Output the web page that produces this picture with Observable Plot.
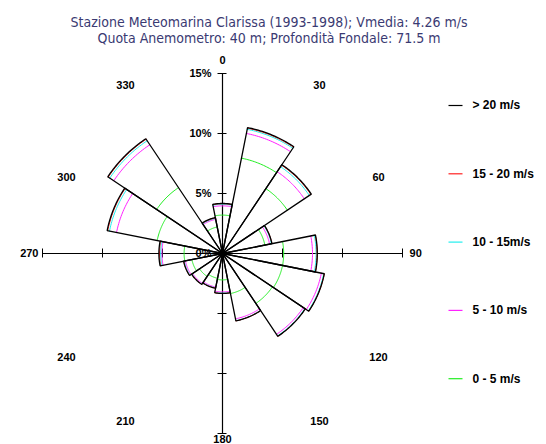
<!DOCTYPE html>
<html>
<head>
<meta charset="utf-8">
<script src="https://cdn.jsdelivr.net/npm/d3@7"></script>
<script src="https://cdn.jsdelivr.net/npm/@observablehq/plot@0.6"></script>
<style>
  html, body { margin: 0; padding: 0; background: #fff; }
  #page { width: 546px; height: 444px; overflow: hidden; position: relative; }
  #title {
    height: 44px; box-sizing: border-box; padding-top: 14px;
    font-family: "DejaVu Sans Condensed", "DejaVu Sans", sans-serif;
    font-stretch: condensed;
    font-size: 14px; line-height: 16px; color: #3a3a72;
    text-align: center; padding-right: 8px;
  }
  #chart svg { display: block; }
</style>
</head>
<body>
<div id="page">
  <div id="title">
    <div>Stazione Meteomarina Clarissa (1993-1998); Vmedia: 4.26 m/s</div>
    <div>Quota Anemometro: 40 m; Profondità Fondale: 71.5 m</div>
  </div>
  <div id="chart"></div>
</div>
<script>
// 16 direction sectors, 22.5° wide, bearing measured clockwise from north
const sectors  = ["N","NNE","NE","ENE","E","ESE","SE","SSE","S","SSW","SW","WSW","W","WNW","NW","NNW"];
const bearings = [0, 22.5, 45, 67.5, 90, 112.5, 135, 157.5, 180, 202.5, 225, 247.5, 270, 292.5, 315, 337.5];

// frequency (%) of each speed class per sector
const speed0to5   = [3.20, 8.10, 6.50, 3.60, 5.10, 5.10, 5.00, 3.40, 2.20, 2.10, 2.30, 2.60, 3.20, 5.55, 6.60, 2.25];
const speed5to10  = [0.77, 2.10, 1.70, 0.40, 2.40, 3.30, 3.10, 2.15, 1.00, 0.75, 0.70, 0.55, 1.85, 3.45, 4.30, 0.65];
const speed10to15 = [0.13, 0.35, 0.50, 0.15, 0.30, 0.20, 0.15, 0.15, 0.10, 0.07, 0.08, 0.10, 0.10, 0.60, 0.40, 0.08];
const speed15to20 = [0.05, 0.10, 0.15, 0.05, 0.08, 0.05, 0.05, 0.02, 0.03, 0.03, 0.02, 0.05, 0.10, 0.15, 0.15, 0.04];
const speedOver20 = [0.02, 0.05, 0.05, 0.00, 0.02, 0.00, 0.00, 0.00, 0.00, 0.00, 0.00, 0.00, 0.05, 0.05, 0.05, 0.03];

const classLabels = ["0 - 5 m/s", "5 - 10 m/s", "10 - 15m/s", "15 - 20 m/s", "> 20 m/s"];
const classColors = ["#22ee22", "#ff22ff", "#22eeee", "#ff2222", "#000000"];

const radialTicks = [5, 10, 15];
const directionLabels = [0, 30, 60, 90, 120, 150, 180, 210, 240, 270, 300, 330];

// ---- geometry helpers (values in percent, bearing in degrees) ----
const rad = d => d * Math.PI / 180;
const polar = (r, b) => [r * Math.sin(rad(b)), r * Math.cos(rad(b))];
const halfWidth = 11.25;

function arc(r, b0, b1, step = 1) {
  const pts = [];
  const n = Math.ceil((b1 - b0) / step);
  for (let i = 0; i <= n; i++) pts.push(polar(r, b0 + (b1 - b0) * i / n));
  return pts;
}

const series = [speed0to5, speed5to10, speed10to15, speed15to20, speedOver20];

// cumulative radius of each class boundary per sector
const cumulative = sectors.map((_, i) => {
  let s = 0;
  return series.map(arr => (s += arr[i]));
});

// coloured class arcs
const classArcs = [];
sectors.forEach((name, i) => {
  const b = bearings[i];
  cumulative[i].forEach((r, k) => {
    if (k === 4) return;
    arc(r, b - halfWidth, b + halfWidth).forEach(([x, y]) =>
      classArcs.push({x, y, key: name + k, cls: k}));
  });
});

// sector outlines: centre -> outer arc -> centre
const outlines = [];
sectors.forEach((name, i) => {
  const b = bearings[i];
  const total = cumulative[i][4];
  outlines.push({x: 0, y: 0, key: name});
  arc(total, b - halfWidth, b + halfWidth).forEach(([x, y]) => outlines.push({x, y, key: name}));
  outlines.push({x: 0, y: 0, key: name});
});

// ---- layout: 12 px per percent, rose centred at (222, 209) ----
const W = 546, H = 400, cx = 222, cy = 209, k = 12;
const xDomain = [-cx / k, (W - cx) / k];
const yDomain = [-(H - cy) / k, cy / k];
const tick = 4.5 / k;

// direction labels: on the axes just past the axis ends, otherwise
// where the bearing ray meets a box around the rose
const axisGap = 16.1, boxW = 13.0, boxH = 14.0, sideDrop = 14 / k;
const dirText = directionLabels.map(d => {
  const s = Math.sin(rad(d)), c = Math.cos(rad(d));
  let x, y;
  if (d % 90 === 0) {
    x = s * axisGap; y = c * (d === 180 ? 15.5 : axisGap);
  } else if (Math.abs(s) * boxH > Math.abs(c) * boxW) {
    x = Math.sign(s) * boxW; y = x * c / s - sideDrop;
  } else {
    y = Math.sign(c) * boxH; x = y * s / c;
  }
  return {x, y, label: String(d)};
});

// legend rows (top row = highest class)
const legendRows = classLabels.map((label, i) => ({
  label, color: classColors[i],
  y: (cy - 61) / k - (4 - i) * (68.3 / k)
}));
const legX1 = (448 - cx) / k, legX2 = (462 - cx) / k, legText = (472 - cx) / k;

const font = "Liberation Sans, Arial, sans-serif";

const chart = Plot.plot({
  width: W, height: H,
  marginTop: 0, marginRight: 0, marginBottom: 0, marginLeft: 0,
  x: {domain: xDomain, axis: null},
  y: {domain: yDomain, axis: null},
  style: {fontFamily: font, background: "#fff", overflow: "visible"},
  marks: [
    // axes
    Plot.ruleX([0], {y1: -15, y2: 15, stroke: "#000", strokeWidth: 1.2}),
    Plot.ruleY([0], {x1: -15, x2: 15, stroke: "#000", strokeWidth: 1.2}),
    Plot.ruleY(radialTicks.flatMap(t => [t, -t]), {x1: -tick, x2: tick, stroke: "#000", strokeWidth: 1}),
    Plot.ruleX(radialTicks.flatMap(t => [t, -t]), {y1: -tick, y2: tick, stroke: "#000", strokeWidth: 1}),
    Plot.text([0, ...radialTicks], {x: 0, y: d => d, text: d => d + "%", dx: -11, textAnchor: "end",
      fontSize: 11, fontWeight: "bold", fill: "#000"}),
    // speed-class arcs
    ...classColors.slice(0, 4).map((color, c) =>
      Plot.line(classArcs.filter(d => d.cls === c), {x: "x", y: "y", z: "key", stroke: color,
        strokeWidth: 1, curve: "linear"})),
    // sector outlines
    Plot.line(outlines, {x: "x", y: "y", z: "key", stroke: "#000", strokeWidth: 1.3,
      strokeLinejoin: "miter", curve: "linear"}),
    // direction labels
    Plot.text(dirText, {x: "x", y: "y", text: "label", fontSize: 11, fontWeight: "bold", fill: "#000"}),
    // legend
    Plot.link(legendRows, {x1: legX1, x2: legX2, y1: "y", y2: "y", stroke: "color", strokeWidth: 1.2}),
    Plot.text(legendRows, {x: legText, y: "y", text: "label", textAnchor: "start",
      fontSize: 12, fontWeight: "bold", fill: "#000", style: "word-spacing:4px"})
  ]
});

document.getElementById("chart").appendChild(chart);
</script>
</body>
</html>
